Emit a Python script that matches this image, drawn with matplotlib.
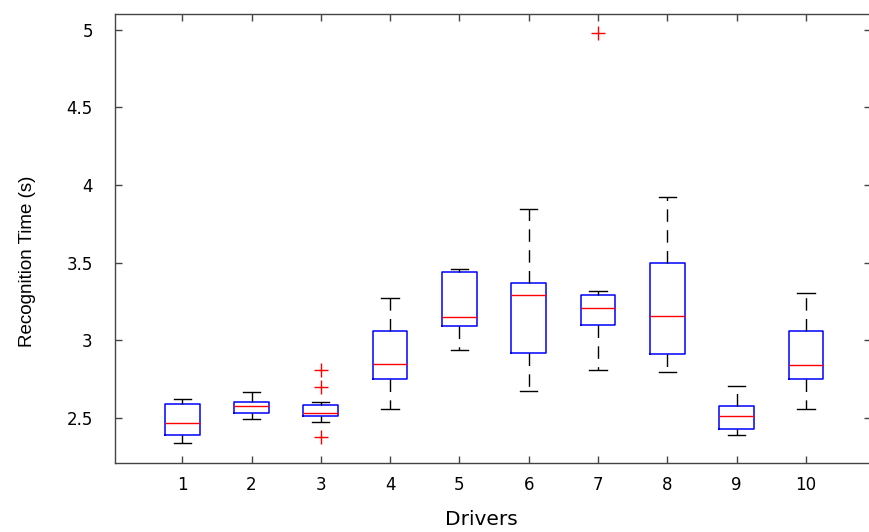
import matplotlib
matplotlib.use("Agg")
import matplotlib.pyplot as plt

# Box plot summary values, one per driver
drivers = [1, 2, 3, 4, 5, 6, 7, 8, 9, 10]
q1 = [2.39, 2.53, 2.51, 2.75, 3.09, 2.92, 3.10, 2.91, 2.43, 2.75]
med = [2.465, 2.58, 2.53, 2.845, 3.15, 3.29, 3.21, 3.155, 2.51, 2.84]
q3 = [2.59, 2.605, 2.585, 3.06, 3.44, 3.37, 3.29, 3.50, 2.575, 3.06]
whislo = [2.34, 2.49, 2.475, 2.56, 2.935, 2.675, 2.81, 2.795, 2.39, 2.56]
whishi = [2.62, 2.67, 2.605, 3.275, 3.46, 3.845, 3.315, 3.92, 2.705, 3.305]
fliers = [[], [], [2.81, 2.70, 2.38], [], [], [], [4.98], [], [], []]

stats = []
for i in range(len(drivers)):
    stats.append({"label": str(drivers[i]), "q1": q1[i], "med": med[i], "q3": q3[i],
                  "whislo": whislo[i], "whishi": whishi[i], "fliers": fliers[i]})

fig = plt.figure(figsize=(8.7, 5.32), dpi=100)
ax = fig.add_axes([115/870, 1 - 463/532, 756/870, 449/532])

ax.bxp(stats, positions=drivers, widths=0.5,
       boxprops=dict(color="#0000ff", linewidth=1.1),
       medianprops=dict(color="#ff0000", linewidth=1.0),
       whiskerprops=dict(color="black", linewidth=1.0, linestyle=(0, (9, 6))),
       capprops=dict(color="black", linewidth=1.0),
       flierprops=dict(marker="+", markeredgecolor="#ff0000", markersize=10,
                       markeredgewidth=1.0, linestyle="none"),
       capwidths=0.25)

ax.set_xlim(0.03, 10.94)
ax.set_ylim(2.21, 5.1)
ax.set_yticks([2.5, 3, 3.5, 4, 4.5, 5])
ax.set_yticklabels(["2.5", "3", "3.5", "4", "4.5", "5"])
ax.set_xticks(drivers)
ax.set_xticklabels([str(d) for d in drivers])

for s in ax.spines.values():
    s.set_color("#444444")
    s.set_linewidth(1.0)
ax.tick_params(direction="in", length=5, width=1, color="#444444",
               top=True, right=True, labelsize=12)
ax.tick_params(axis="x", pad=9)
ax.tick_params(axis="y", pad=16)

ax.set_xlabel("Drivers", fontsize=14.5)
ax.xaxis.set_label_coords(0.484, -0.105)
ax.set_ylabel("Recognition Time (s)", fontsize=13.5, family="Liberation Sans")
ax.yaxis.set_label_coords(-0.105, 0.45)

fig.savefig("out.png", dpi=100)
